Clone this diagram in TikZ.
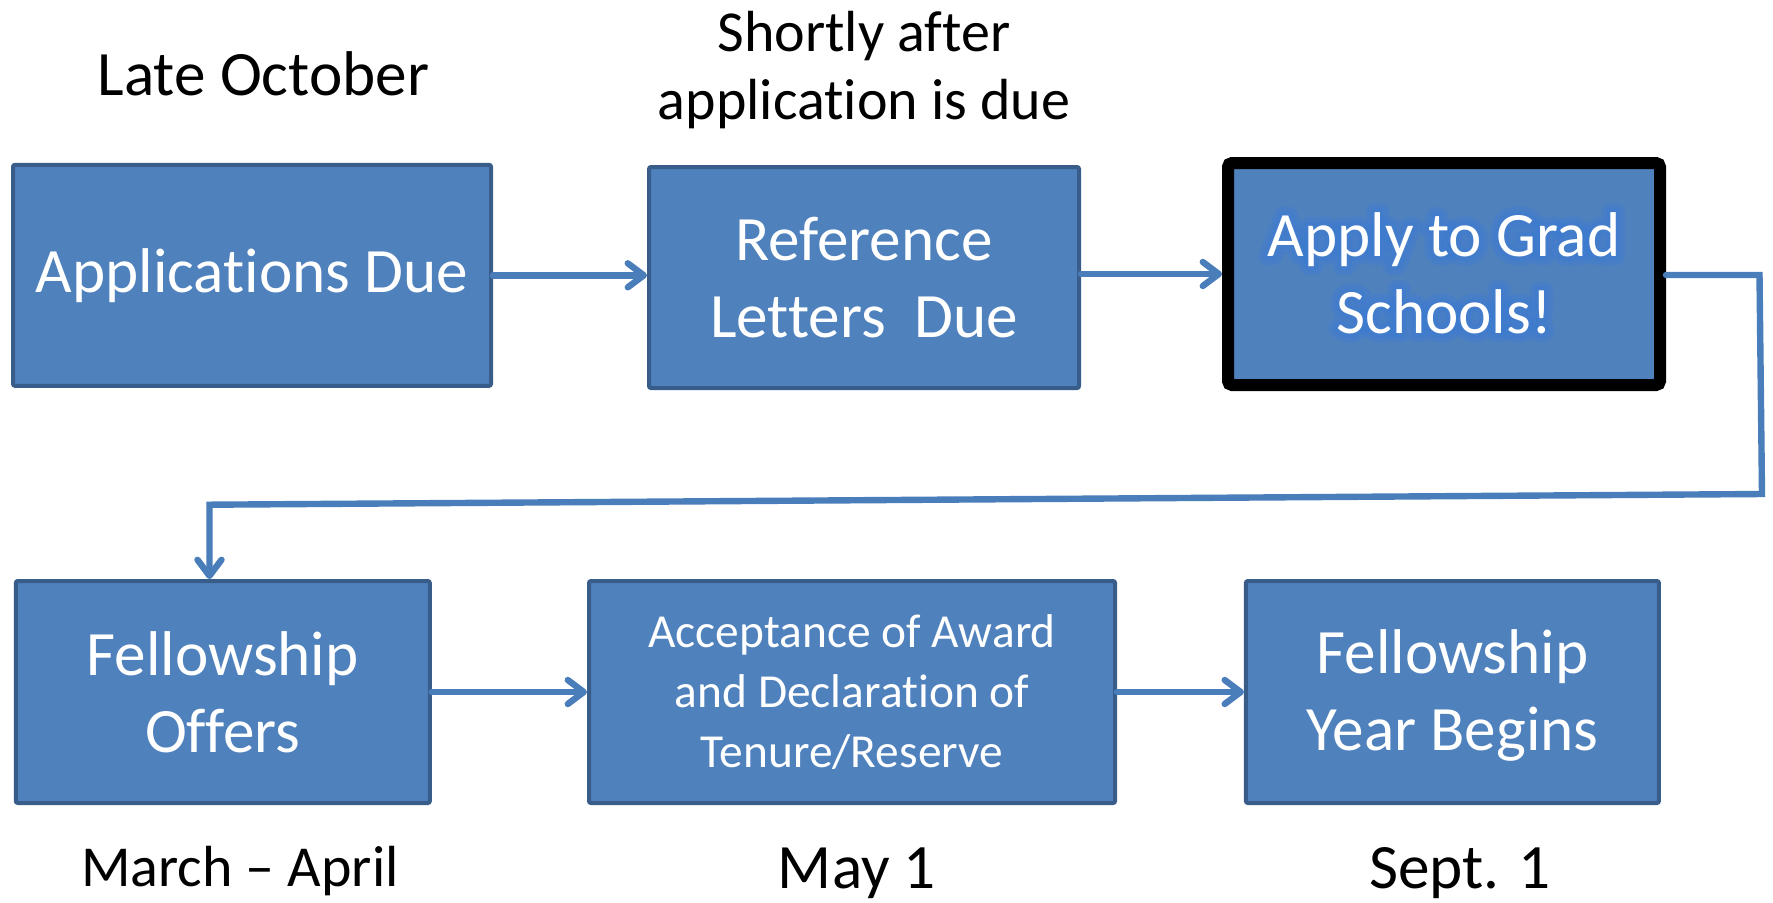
\documentclass[tikz,border=0pt]{standalone}
\usepackage{fontspec}
\setmainfont{Carlito}[Ligatures={TeX,NoCommon}]
\usetikzlibrary{arrows.meta,calc}
\definecolor{boxfill}{HTML}{4F81BD}
\definecolor{boxline}{HTML}{385D8A}
\definecolor{arrowc}{HTML}{4A7EBB}
\definecolor{glowc}{HTML}{3A7BD5}
\newcommand{\glowstroke}[2]{\special{pdf:code q 1 Tr #1 w 1 j}#2\special{pdf:code Q}}
\tikzset{
  box/.style={draw=boxline, fill=boxfill, line width=2pt, inner sep=0pt, rounded corners=1pt,
    text=white, align=center, font=\fontsize{31.6}{38.5}\selectfont},
  keybox/.style={draw=black, fill=boxfill, line width=6pt, inner sep=0pt, rounded corners=2pt},
  boxtext/.style={text=white, align=center, inner sep=0pt, font=\fontsize{31.6}{38.5}\selectfont},
  glowtext/.style={text=glowc, align=center, inner sep=0pt, opacity=0.35, font=\fontsize{31.6}{38.5}\selectfont},
  smalltext/.style={font=\fontsize{23.7}{30}\selectfont},
  conn/.style={draw=arrowc, line width=3.2pt, line cap=round, line join=miter,
    -{Straight Barb[length=8pt,width=12pt,round]}},
  lab/.style={align=center, inner sep=0pt, font=\fontsize{31.6}{38.5}\selectfont},
  labsm/.style={align=center, inner sep=0pt, font=\fontsize{29}{34}\selectfont},
}
\begin{document}
\begin{tikzpicture}[x=0.5pt,y=-0.5pt]
\useasboundingbox (0,0) rectangle (1773,902);

% top row
\node[box, minimum width=239pt, minimum height=110.5pt] (b1) at (252,275.3) {Applications Due};
\node[box, minimum width=215pt, minimum height=110.5pt] (b2) at (864,277.5) {Reference\\Letters~ Due};
\node[keybox, minimum width=216pt, minimum height=111pt] (b3) at (1444,274) {};
\node[glowtext] (g1) at (1444,273) {\glowstroke{9}{Apply to Grad}\\\glowstroke{9}{Schools!}};
\node[glowtext] (g2) at (1444,273) {\glowstroke{4.5}{Apply to Grad}\\\glowstroke{4.5}{Schools!}};
\node[boxtext] (t3) at (1444,273) {Apply to Grad\\Schools!};

% bottom row
\node[box, minimum width=207pt, minimum height=111pt] (b4) at (222.8,692) {Fellowship\\Offers};
\node[box, minimum width=263pt, minimum height=111pt, smalltext] (b5) at (852,692) {Acceptance of Award\\and Declaration of\\Tenure/Reserve};
\node[box, minimum width=206.5pt, minimum height=111pt] (b6) at (1452.4,692) {};
\node[boxtext] (t6) at (1452.4,695) {Fellowship\\Year Begins};

% labels
\node[lab] (l1) at (263.4,74) {Late October};
\node[labsm] (l2) at (864,70.5) {Shortly after\\application is due};
\node[labsm] (l4) at (240,871) {March – April};
\node[lab] (l5) at (857,873.5) {May 1};
\node[lab] (l6) at (1460,873.5) {Sept. 1};

% connectors
\coordinate (c1) at (1759.5,275);
\coordinate (c2) at (1762,494);
\coordinate (c3) at (209.5,504.7);
\draw[conn] (b1.east) -- (b1.east -| b2.west);
\draw[conn] (b2.east |- 0,274) -- (b3.west |- 0,274);
\draw[conn] (b3.east |- c1) -- (c1) -- (c2) -- (c3) -- (c3 |- b4.north);
\draw[conn] (b4.east) -- (b4.east -| b5.west);
\draw[conn] (b5.east) -- (b5.east -| b6.west);
\end{tikzpicture}
\end{document}
